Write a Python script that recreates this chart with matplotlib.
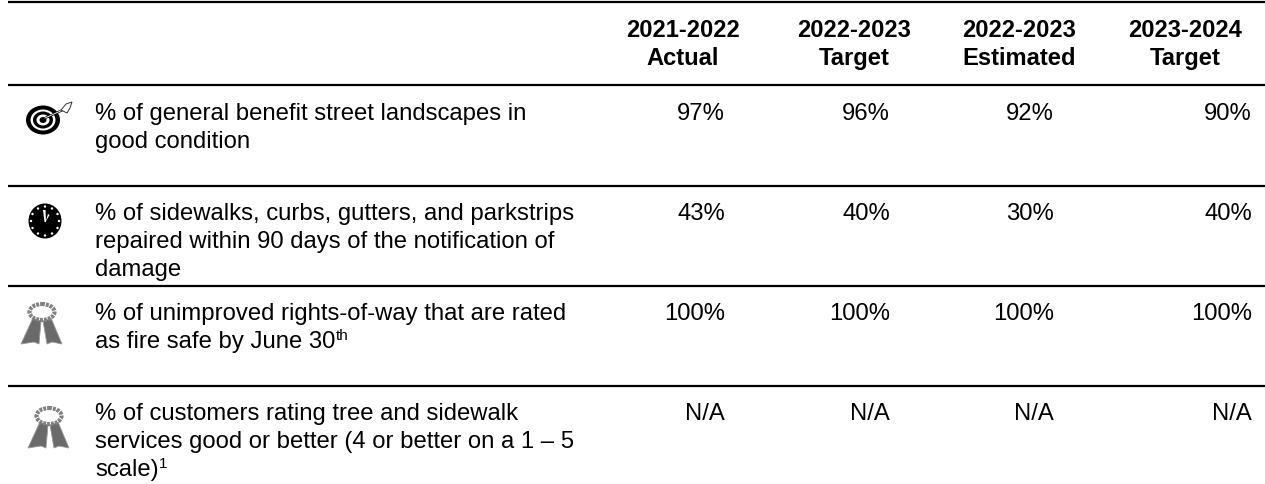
import matplotlib
matplotlib.use('Agg')
import matplotlib.pyplot as plt
from matplotlib.patches import Circle, Ellipse, Polygon

plt.rcParams['font.family'] = ['Liberation Sans', 'DejaVu Sans']

# Table content
headers = [['2021-2022', 'Actual'], ['2022-2023', 'Target'], ['2022-2023', 'Estimated'], ['2023-2024', 'Target']]
measures = [
    ['% of general benefit street landscapes in', 'good condition'],
    ['% of sidewalks, curbs, gutters, and parkstrips', 'repaired within 90 days of the notification of', 'damage'],
    ['% of unimproved rights-of-way that are rated', 'as fire safe by June 30'],
    ['% of customers rating tree and sidewalk', 'services good or better (4 or better on a 1 – 5', 'scale)'],
]
# superscript text after the last line of a row
superscripts = ['', '', 'th', '1']
actual_2122 = ['97%', '43%', '100%', 'N/A']
target_2223 = ['96%', '40%', '100%', 'N/A']
estimated_2223 = ['92%', '30%', '100%', 'N/A']
target_2324 = ['90%', '40%', '100%', 'N/A']

# Layout in pixels
header_x = [683, 854, 1019, 1185]
value_x = [725, 890, 1054, 1252]
rule_y = [3, 86, 187, 287, 387]
row_base = [120, 220, 320, 420]
text_x = 95
fs = 17.2
pitch = 28


def draw_target(ax, x, y):
    for rx, ry, c in [(17, 14.5, 'black'), (12.5, 10.5, 'white'), (10, 8.5, 'black'), (6.5, 5.5, 'white'), (3.5, 3, 'black')]:
        ax.add_patch(Ellipse((x, y), 2 * rx, 2 * ry, fc=c, ec='none', zorder=3))
    ax.plot([x, x + 22], [y - 1, y - 11], color='black', lw=1.6, zorder=4)
    ax.plot([x + 2, x + 22], [y - 2, y - 11], color='white', lw=0.6, zorder=5)
    ax.add_patch(Polygon([(x + 18, y - 10), (x + 23, y - 16), (x + 29, y - 18), (x + 27, y - 12), (x + 24, y - 7)],
                         fc='white', ec='#333333', lw=0.7, zorder=5))


def draw_clock(ax, x, y):
    ax.add_patch(Ellipse((x, y), 33, 35, fc='black', ec='none', zorder=3))
    for dx, dy in [(0, -14.5), (7, -12.5), (12.5, -7), (14, 0), (12.5, 7), (7, 12.5), (0, 14.5),
                   (-7, 12.5), (-12.5, 7), (-14, 0), (-12.5, -7), (-7, -12.5)]:
        ax.add_patch(Circle((x + dx, y + dy), 1.2, fc='white', ec='none', zorder=4))
    ax.add_patch(Polygon([(x - 2, y - 11), (x + 0.5, y - 11), (x + 1, y + 1), (x - 0.5, y + 1)], fc='white', ec='none', zorder=5))
    ax.add_patch(Polygon([(x + 0.5, y + 1), (x + 3, y - 7), (x + 4.5, y - 6)], fc='white', ec='none', zorder=5))


def draw_ribbon(ax, x, y):
    grey = '#6a6a6a'
    ax.add_patch(Polygon([(x - 9, y + 6), (x - 21, y + 32), (x - 8, y + 30), (x - 3, y + 32), (x - 1, y + 9)],
                         fc=grey, ec='#999999', lw=0.6, zorder=3))
    ax.add_patch(Polygon([(x + 1, y + 9), (x + 5, y + 32), (x + 10, y + 30), (x + 20, y + 32), (x + 9, y + 6)],
                         fc=grey, ec='#999999', lw=0.6, zorder=3))
    ax.add_patch(Ellipse((x, y), 25, 16, fc='white', ec='#808080', lw=3, ls=(0, (0.7, 0.25)), zorder=4))


fig = plt.figure(figsize=(12.65, 4.85), dpi=100)
ax = fig.add_axes([0, 0, 1, 1])
ax.set_xlim(0, 1265)
ax.set_ylim(485, 0)
ax.axis('off')

for y in rule_y:
    ax.plot([8, 1265], [y, y], color='black', lw=1.6, solid_capstyle='butt')

for x, lines in zip(header_x, headers):
    ax.text(x, 37, lines[0], ha='center', va='baseline', fontsize=17.1, fontweight='bold')
    ax.text(x, 65, lines[1], ha='center', va='baseline', fontsize=17.1, fontweight='bold')

columns = [actual_2122, target_2223, estimated_2223, target_2324]
renderer = fig.canvas.get_renderer()
for r, lines in enumerate(measures):
    for i, line in enumerate(lines):
        t = ax.text(text_x, row_base[r] + i * pitch, line, ha='left', va='baseline', fontsize=fs)
    if superscripts[r]:
        # sits right after the last line, raised a bit
        end_x = t.get_window_extent(renderer).x1
        ax.text(end_x + 0.5, row_base[r] + (len(lines) - 1) * pitch - 8, superscripts[r],
                ha='left', va='baseline', fontsize=11)
    for x, col in zip(value_x, columns):
        ax.text(x, row_base[r], col[r], ha='right', va='baseline', fontsize=fs)

draw_target(ax, 43, 121)
draw_clock(ax, 45, 222)
draw_ribbon(ax, 42, 313)
draw_ribbon(ax, 49, 417)

fig.savefig('out.png', dpi=100)
